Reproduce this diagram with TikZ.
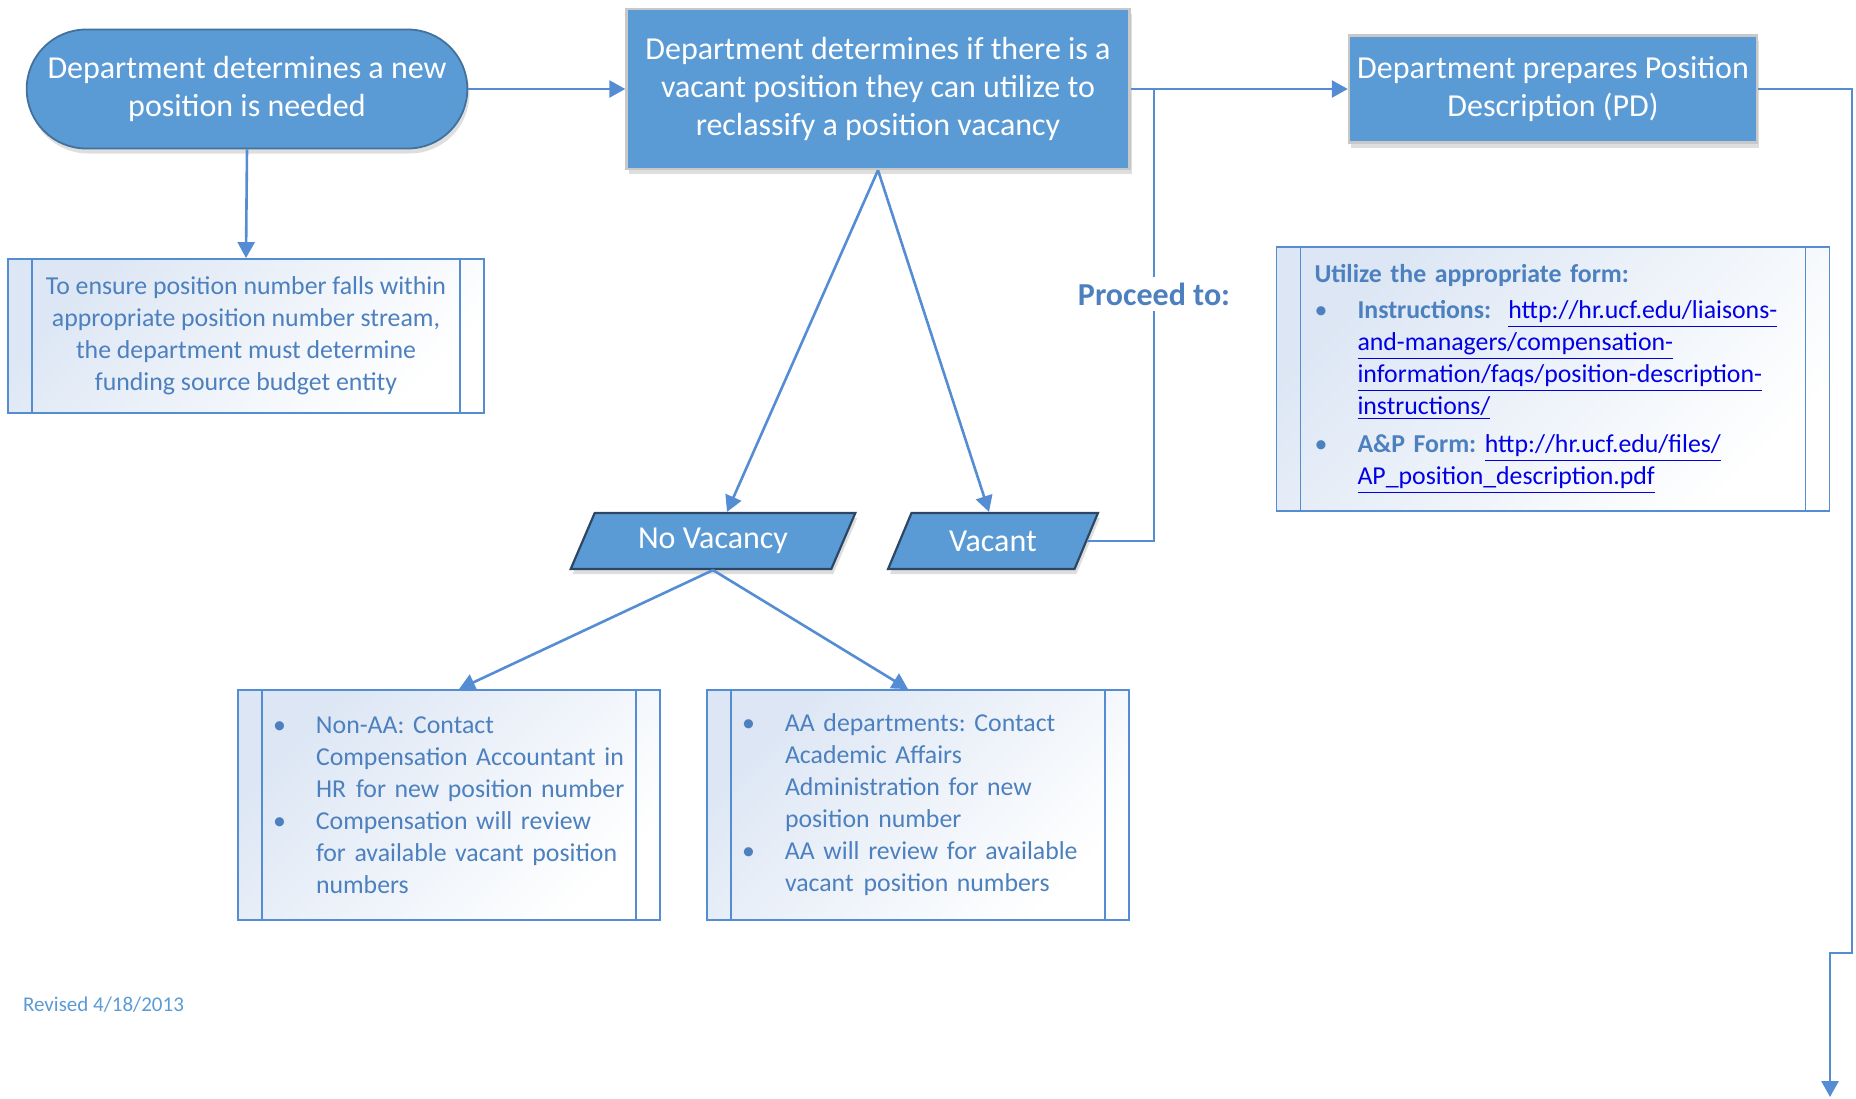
\documentclass[tikz,border=0pt]{standalone}
\usepackage{fontspec}
\setmainfont{Carlito}
\frenchspacing
\usetikzlibrary{shapes.misc,shapes.geometric,arrows.meta,shadows}
\definecolor{cfill}{RGB}{91,155,213}
\definecolor{cedge}{RGB}{65,113,156}
\definecolor{cdark}{RGB}{45,70,100}
\definecolor{cgray}{RGB}{200,200,200}
\definecolor{cline}{RGB}{84,141,212}
\definecolor{cnote}{RGB}{76,128,190}
\definecolor{cwash}{RGB}{220,230,244}
\definecolor{clink}{RGB}{0,0,230}
\newcommand\bitem[1]{\mbox{\makebox[21.5pt][l]{\textbullet}#1}}
\newcommand\bind[1]{\mbox{\hspace*{21.5pt}#1}}
\newcommand\lnk[1]{\textcolor{clink}{\underline{#1}}}
\tikzset{
  softshadow/.style={drop shadow={shadow xshift=1pt,shadow yshift=-2.5pt,opacity=0.13,fill=black}},
  termbox/.style={rounded rectangle,fill=cfill,draw=cedge,line width=0.9pt,text=white,
    align=center,font=\fontsize{16}{19}\selectfont,softshadow},
  flowbox/.style={rectangle,fill=cfill,draw=cgray,line width=1.2pt,text=white,
    align=center,font=\fontsize{16}{19}\selectfont,softshadow},
  databox/.style={trapezium,trapezium left angle=67,trapezium right angle=113,
    trapezium stretches=true,fill=cfill,draw=cdark,line width=1.1pt,text=white,
    font=\fontsize{16}{19}\selectfont,softshadow},
  notebox/.style={rectangle,draw=cline,line width=0.9pt,left color=cwash,right color=white,
    shading angle=45,text=cnote,font=\fontsize{12.9}{16}\selectfont,
    path picture={\draw[cline,line width=0.9pt]
      ([xshift=12pt]path picture bounding box.north west) -- ([xshift=12pt]path picture bounding box.south west)
      ([xshift=-12pt]path picture bounding box.north east) -- ([xshift=-12pt]path picture bounding box.south east);}},
  conn/.style={draw=cline,line width=1.3pt},
}

\begin{document}
\begin{tikzpicture}[x=0.5pt,y=-0.5pt,>={Triangle[length=8pt,width=8.5pt]}]
  \useasboundingbox (0,0) rectangle (1856,1098);
  % top row
  \node[termbox,minimum width=227pt,minimum height=59.5pt] (start) at (247,89)
    {Department determines a new\\position is needed};
  \node[flowbox,minimum width=251.5pt,minimum height=80pt] (check) at (878,89)
    {Department determines if there is a\\vacant position they can utilize to\\reclassify a position vacancy};
  \node[flowbox,minimum width=204pt,minimum height=53.5pt] (prep) at (1553,89)
    {Department prepares Position\\Description (PD)};
  % notes
  \node[notebox,align=center,minimum width=238pt,minimum height=77pt] (fund) at (246,336)
    {To ensure position number falls within\\appropriate position number stream,\\the department must determine\\funding source budget entity};
  \node[notebox,align=left,text width=176pt,inner xsep=17.5pt,minimum height=115pt] (nonaa) at (449,805)
    {\bitem{Non-AA: Contact}\\\bind{Compensation Accountant in}\\\bind{HR\hspace{5pt}for new position number}\\
     \bitem{Compensation will review}\\\bind{for available vacant position}\\\bind{numbers}};
  \node[notebox,align=left,text width=176pt,inner xsep=17.5pt,minimum height=115pt] (aa) at (918,805)
    {\bitem{AA departments: Contact}\\\bind{Academic Affairs}\\\bind{Administration for new}\\\bind{position number}\\
     \bitem{AA will review for available}\\\bind{vacant\hspace{5pt}position numbers}};
  \node[notebox,align=left,text width=238.5pt,inner xsep=19pt,minimum height=132pt] (forms) at (1553,379)
    {\mbox{\textbf{Utilize the appropriate form:}}\\[2pt]
     \bitem{\textbf{Instructions:}\ \ \lnk{http://hr.ucf.edu/liaisons-}}\\
     \bind{\lnk{and-managers/compensation-}}\\
     \bind{\lnk{information/faqs/position-description-}}\\
     \bind{\lnk{instructions/}}\\[3pt]
     \bitem{\textbf{A\&P Form:} \lnk{http://hr.ucf.edu/files/}}\\
     \bind{\lnk{AP\_position\_description.pdf}}};
  % outcomes
  \node[databox,minimum width=143.5pt,minimum height=28pt] (novac) at (713,541) {No Vacancy};
  \node[databox,minimum width=105pt,minimum height=28pt] (vacant) at (993,541) {Vacant};
  \node[anchor=west,text=cfill,font=\fontsize{10.5}{12}\selectfont] (rev) at (16,1005) {Revised 4/18/2013};
  % connectors
  \coordinate (split) at (1154,89);
  \coordinate (bend) at (1852,953);
  \coordinate (exit) at (1830,1097);
  \draw[conn,->] (start.east) -- (check.west);
  \draw[conn,->] (start.south) -- (fund.north);
  \draw[conn,->] (check.east) -- (prep.west);
  \draw[conn] (split) |- (vacant.east);
  \node[fill=white,inner sep=3pt,text=cnote,font=\bfseries\fontsize{16}{18}\selectfont] (proceed) at (1154,294) {Proceed to:};
  \draw[conn,->] (check.south) -- ([xshift=7pt]novac.north);
  \draw[conn,->] (check.south) -- ([xshift=-2pt]vacant.north);
  \draw[conn,->] (novac.south) -- ([xshift=5pt]nonaa.north);
  \draw[conn,->] (novac.south) -- ([xshift=-5pt]aa.north);
  \draw[conn,->] (prep.east) -| (bend) -| (exit);
\end{tikzpicture}
\end{document}
